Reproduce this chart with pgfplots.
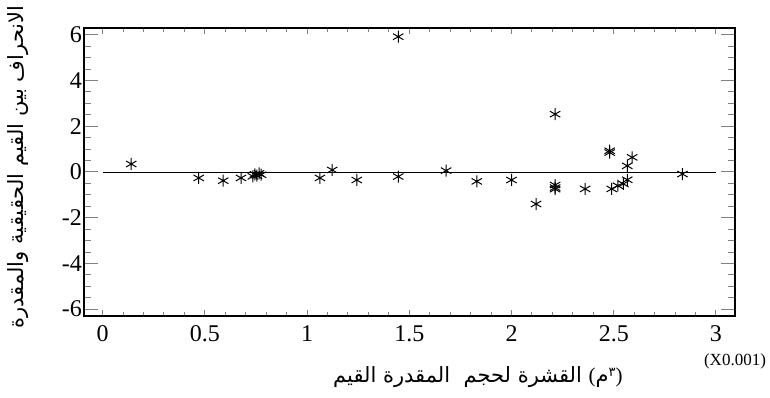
\documentclass[border=0pt]{standalone}
\usepackage{pgfplots}
\pgfplotsset{compat=1.18}
\usepackage{fontspec}
\setmainfont{Liberation Serif}
\newfontfamily\arabicfont[Script=Arabic]{DejaVu Sans}
\TeXXeTstate=1
\pgfplotstableread{
x y
0.14 0.35
0.47 -0.26
0.59 -0.38
0.677 -0.26
0.735 -0.19
0.745 -0.10
0.755 -0.16
0.765 -0.06
0.775 -0.12
1.063 -0.26
1.123 0.09
1.243 -0.35
1.446 5.92
1.446 -0.20
1.68 0.06
1.83 -0.41
2.00 -0.35
2.12 -1.40
2.213 2.53
2.213 -0.57
2.213 -0.68
2.213 -0.75
2.36 -0.74
2.48 0.85
2.48 0.93
2.49 -0.74
2.52 -0.60
2.547 -0.52
2.566 -0.34
2.566 0.27
2.59 0.64
2.836 -0.09
}\pts
\begin{document}
\begin{tikzpicture}
\useasboundingbox (0,0) rectangle (770pt,397pt);
\begin{axis}[
  at={(84pt,81pt)}, anchor=south west,
  scale only axis, width=651pt, height=288pt,
  xmin=-0.091, xmax=3.093, ymin=-6.3, ymax=6.3,
  clip=false,
  axis line style={line width=1.3pt},
  xtick={0,0.5,1,1.5,2,2.5,3},
  xticklabels={0,0.5,1,1.5,2,2.5,3},
  ytick={-6,-4,-2,0,2,4,6},
  minor x tick num=4, minor y tick num=3,
  tick pos=both, tick align=inside,
  major tick length=14pt, minor tick length=7pt,
  xtick style={line width=1pt,/pgfplots/major tick length=6pt,/pgfplots/minor tick length=4pt},
  ytick style={line width=1pt},
  /pgf/number format/assume math mode=true,
  ticklabel style={font=\fontsize{24}{24}\selectfont},
  xticklabel style={yshift=-8pt, inner sep=1pt},
  yticklabel style={inner sep=2pt},
]
\addplot[black, line width=0.6pt, forget plot] coordinates {(0,0) (3,0)};
\addplot[only marks, mark=asterisk, mark size=6pt, black, mark options={line width=1pt}] table[x=x,y=y] {\pts};
\node[rotate=90, anchor=center, font=\arabicfont\fontsize{21}{21}\selectfont] at (rel axis cs:-0.101,0.517) {\beginR الانحراف بين القيم الحقيقية والمقدرة\endR};
\node[anchor=center, font=\arabicfont\fontsize{21}{21}\selectfont] at (rel axis cs:0.605,-0.212) {\mbox{\beginR القيم\endR}\ \mbox{\beginR المقدرة\endR}\ \ \mbox{\beginR لحجم\endR}\ \mbox{\beginR القشرة\endR}\ \mbox{\rmfamily(}\mbox{\beginR م\endR}\raisebox{0.55ex}{\mbox{\fontsize{13}{13}\selectfont ٣}}\mbox{\rmfamily)}};
\node[anchor=center, inner sep=0pt, font=\fontsize{17}{17}\selectfont] at (rel axis cs:1.0,-0.158) {(X0.001)};
\end{axis}
\end{tikzpicture}
\end{document}
